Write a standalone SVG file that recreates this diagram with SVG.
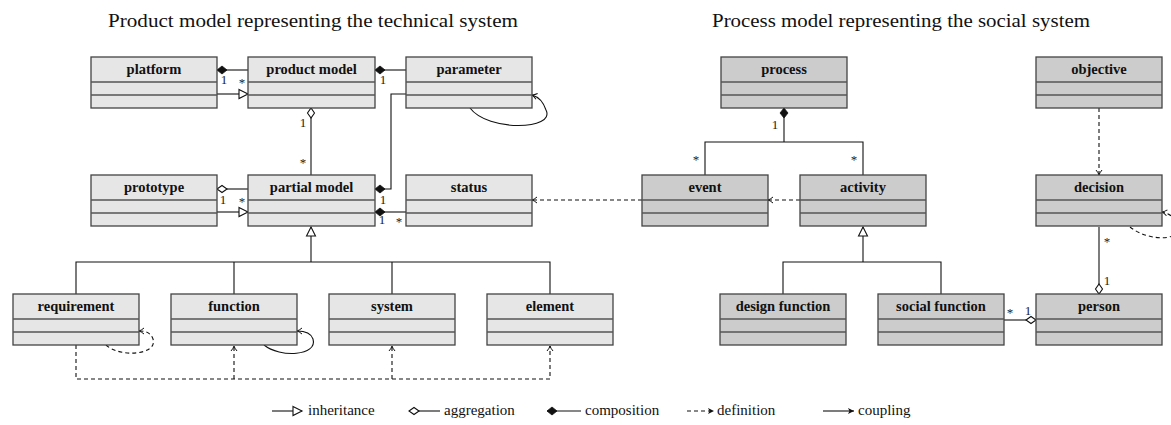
<svg xmlns="http://www.w3.org/2000/svg" width="1171" height="425" viewBox="0 0 1171 425">
<style>
.bl{fill:#e6e6e6;stroke:#444;stroke-width:1.3}
.br{fill:#cccccc;stroke:#444;stroke-width:1.3}
.dv{stroke:#555;stroke-width:1.3}
.hd{font-family:"Liberation Serif","DejaVu Serif",serif;font-weight:bold;font-size:14.5px;text-anchor:middle;fill:#111}
.ttl{font-family:"Liberation Serif","DejaVu Serif",serif;font-size:19px;fill:#111}
.m{font-family:"Liberation Serif","DejaVu Serif",serif;font-size:13px;text-anchor:middle;fill:#222}
.lg{font-family:"Liberation Serif","DejaVu Serif",serif;font-size:15px;fill:#111}
.c{fill:none;stroke:#111;stroke-width:1.1}
.d{fill:none;stroke:#111;stroke-width:1.1;stroke-dasharray:4 3}
</style>
<defs>
<marker id="tri" markerUnits="userSpaceOnUse" markerWidth="12" markerHeight="12" refX="9" refY="4.5" orient="auto" overflow="visible"><path d="M0,0 L9,4.5 L0,9 Z" fill="#fff" stroke="#111" stroke-width="1.1"/></marker>
<marker id="dF" markerUnits="userSpaceOnUse" markerWidth="12" markerHeight="10" refX="10" refY="4" orient="auto-start-reverse" overflow="visible"><path d="M0,4 L5,0 L10,4 L5,8 Z" fill="#111" stroke="#111" stroke-width="0.8"/></marker>
<marker id="dH" markerUnits="userSpaceOnUse" markerWidth="12" markerHeight="10" refX="10" refY="3.5" orient="auto-start-reverse" overflow="visible"><path d="M0,3.5 L5,0 L10,3.5 L5,7 Z" fill="#fff" stroke="#111" stroke-width="1.1"/></marker>
<marker id="ar" markerUnits="userSpaceOnUse" markerWidth="8" markerHeight="8" refX="5" refY="3" orient="auto" overflow="visible"><path d="M0,0 Q3,2.5 5,3 Q3,3.5 0,6" fill="none" stroke="#111" stroke-width="1"/></marker>
<marker id="arF" markerUnits="userSpaceOnUse" markerWidth="8" markerHeight="8" refX="6" refY="3" orient="auto" overflow="visible"><path d="M0,0 L6,3 L0,6 L1.5,3 Z" fill="#111"/></marker>
</defs>

<text class="ttl" x="108" y="27" textLength="410" lengthAdjust="spacingAndGlyphs">Product model representing the technical system</text>
<text class="ttl" x="712" y="27" textLength="378" lengthAdjust="spacingAndGlyphs">Process model representing the social system</text>

<g id="connectors">
<path class="c" d="M217,70 H248" marker-start="url(#dF)"/>
<path class="c" d="M217,94 H248" marker-end="url(#tri)"/>
<path class="c" d="M375,70 H406" marker-start="url(#dF)"/>
<path class="c" d="M406,94 H391 V189 H375" marker-end="url(#dF)"/>
<path class="c" d="M375,212 H406" marker-start="url(#dF)"/>
<path class="c" d="M311,108 V175" marker-start="url(#dH)"/>
<path class="c" d="M217,189 H248" marker-start="url(#dH)"/>
<path class="c" d="M217,212 H248" marker-end="url(#tri)"/>
<path class="c" d="M76,294 V262 H550 V294 M234,262 V294 M392,262 V294"/>
<path class="c" d="M311,262 V227" marker-end="url(#tri)"/>
<path class="d" d="M76,345 V379 H550 V346" marker-end="url(#ar)"/>
<path class="d" d="M234,379 V346" marker-end="url(#ar)"/>
<path class="d" d="M392,379 V346" marker-end="url(#ar)"/>
<path class="d" d="M106,345 C120,358 158,355 153,339 C151,333 146,331 139,331" marker-end="url(#ar)"/>
<path class="c" d="M264,345 C280,358 318,356 313,339 C311,333 306,331 297,331" marker-end="url(#ar)"/>
<path class="c" d="M470,108 C488,132 556,130 546,110 C543,101 539,97 532,95" marker-end="url(#ar)"/>
<path class="c" d="M784,108 V142" marker-start="url(#dF)"/>
<path class="c" d="M705,175 V142 H863 V175"/>
<path class="d" d="M800,200 H768" marker-end="url(#ar)"/>
<path class="d" d="M642,200 H532" marker-end="url(#ar)"/>
<path class="d" d="M1099,108 V175" marker-end="url(#ar)"/>
<path class="d" d="M1130,227 C1150,243 1188,241 1176,222 C1173,216 1168,213 1162,212" marker-end="url(#ar)"/>
<path class="c" d="M1099,227 V294" marker-end="url(#dH)"/>
<path class="c" d="M1004,320 H1036" marker-end="url(#dH)"/>
<path class="c" d="M783,294 V262 H941 V294"/>
<path class="c" d="M863,262 V227" marker-end="url(#tri)"/>
</g>

<g id="multiplicities" fill="#222">
<text class="m" x="224" y="84">1</text>
<text class="m" x="242" y="87">*</text>
<text class="m" x="383" y="84">1</text>
<text class="m" x="383" y="204">1</text>
<text class="m" x="382" y="224">1</text>
<text class="m" x="399" y="226">*</text>
<text class="m" x="303" y="127">1</text>
<text class="m" x="303" y="167">*</text>
<text class="m" x="223" y="204">1</text>
<text class="m" x="242" y="206">*</text>
<text class="m" x="775" y="129">1</text>
<text class="m" x="696" y="164">*</text>
<text class="m" x="854" y="164">*</text>
<text class="m" x="1107" y="246">*</text>
<text class="m" x="1107" y="285">1</text>
<text class="m" x="1010" y="317">*</text>
<text class="m" x="1028" y="315">1</text>
</g>

<g id="platform"><rect class="bl" x="91" y="57" width="126" height="51"/><path class="dv" d="M91,82 H217 M91,95 H217"/><text class="hd" x="154" y="73.5">platform</text></g>
<g id="product-model"><rect class="bl" x="248" y="57" width="127" height="51"/><path class="dv" d="M248,82 H375 M248,95 H375"/><text class="hd" x="311.5" y="73.5">product model</text></g>
<g id="parameter"><rect class="bl" x="406" y="57" width="126" height="51"/><path class="dv" d="M406,82 H532 M406,95 H532"/><text class="hd" x="469" y="73.5">parameter</text></g>
<g id="prototype"><rect class="bl" x="91" y="175" width="126" height="51"/><path class="dv" d="M91,200 H217 M91,213 H217"/><text class="hd" x="154" y="191.5">prototype</text></g>
<g id="partial-model"><rect class="bl" x="248" y="175" width="127" height="51"/><path class="dv" d="M248,200 H375 M248,213 H375"/><text class="hd" x="311.5" y="191.5">partial model</text></g>
<g id="status"><rect class="bl" x="406" y="175" width="126" height="51"/><path class="dv" d="M406,200 H532 M406,213 H532"/><text class="hd" x="469" y="191.5">status</text></g>
<g id="requirement"><rect class="bl" x="13" y="294" width="126" height="51"/><path class="dv" d="M13,319 H139 M13,332 H139"/><text class="hd" x="76" y="310.5">requirement</text></g>
<g id="function"><rect class="bl" x="171" y="294" width="126" height="51"/><path class="dv" d="M171,319 H297 M171,332 H297"/><text class="hd" x="234" y="310.5">function</text></g>
<g id="system"><rect class="bl" x="329" y="294" width="126" height="51"/><path class="dv" d="M329,319 H455 M329,332 H455"/><text class="hd" x="392" y="310.5">system</text></g>
<g id="element"><rect class="bl" x="487" y="294" width="126" height="51"/><path class="dv" d="M487,319 H613 M487,332 H613"/><text class="hd" x="550" y="310.5">element</text></g>

<g id="process"><rect class="br" x="721" y="57" width="126" height="51"/><path class="dv" d="M721,82 H847 M721,95 H847"/><text class="hd" x="784" y="73.5">process</text></g>
<g id="objective"><rect class="br" x="1036" y="57" width="126" height="51"/><path class="dv" d="M1036,82 H1162 M1036,95 H1162"/><text class="hd" x="1099" y="73.5">objective</text></g>
<g id="event"><rect class="br" x="642" y="175" width="126" height="51"/><path class="dv" d="M642,200 H768 M642,213 H768"/><text class="hd" x="705" y="191.5">event</text></g>
<g id="activity"><rect class="br" x="800" y="175" width="126" height="51"/><path class="dv" d="M800,200 H926 M800,213 H926"/><text class="hd" x="863" y="191.5">activity</text></g>
<g id="decision"><rect class="br" x="1036" y="175" width="126" height="51"/><path class="dv" d="M1036,200 H1162 M1036,213 H1162"/><text class="hd" x="1099" y="191.5">decision</text></g>
<g id="design-function"><rect class="br" x="720" y="294" width="126" height="51"/><path class="dv" d="M720,319 H846 M720,332 H846"/><text class="hd" x="783" y="310.5">design function</text></g>
<g id="social-function"><rect class="br" x="878" y="294" width="126" height="51"/><path class="dv" d="M878,319 H1004 M878,332 H1004"/><text class="hd" x="941" y="310.5">social function</text></g>
<g id="person"><rect class="br" x="1036" y="294" width="126" height="51"/><path class="dv" d="M1036,319 H1162 M1036,332 H1162"/><text class="hd" x="1099" y="310.5">person</text></g>

<g id="legend">
<path class="c" d="M272,411 H302" marker-end="url(#tri)"/>
<text class="lg" x="308" y="415">inheritance</text>
<path class="c" d="M409,411 H440" marker-start="url(#dH)"/>
<text class="lg" x="444" y="415">aggregation</text>
<path class="c" d="M547,411 H581" marker-start="url(#dF)"/>
<text class="lg" x="585" y="415">composition</text>
<path class="d" d="M687,411 H714" marker-end="url(#arF)"/>
<text class="lg" x="717" y="415">definition</text>
<path class="c" d="M823,411 H854" marker-end="url(#arF)"/>
<text class="lg" x="858" y="415">coupling</text>
</g>
</svg>
